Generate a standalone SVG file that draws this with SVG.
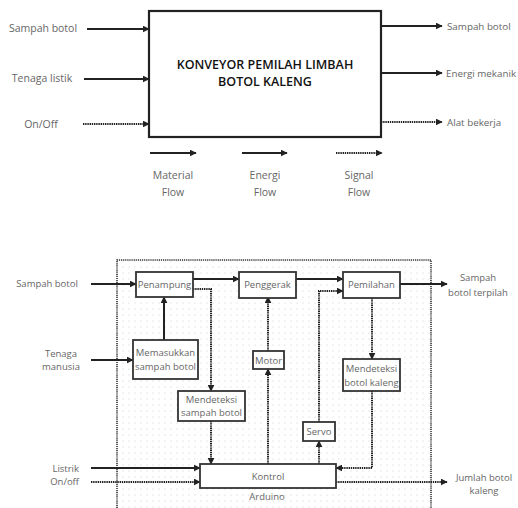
<svg xmlns="http://www.w3.org/2000/svg" width="518" height="508" viewBox="0 0 518 508">
<defs>
<marker id="ah" viewBox="0 0 10 10" refX="9" refY="5" markerWidth="7" markerHeight="7" markerUnits="userSpaceOnUse" orient="auto">
<path d="M0,0 L10,5 L0,10 z" fill="#222"/>
</marker>
<pattern id="dots" width="6" height="6" patternUnits="userSpaceOnUse">
<circle cx="3" cy="3" r="0.6" fill="#c8c8c8"/>
</pattern>
<style>
.lbl{font-family:"Open Sans","Liberation Sans",sans-serif;font-size:10.5px;fill:#666}
.rl{font-family:"Open Sans","Liberation Sans",sans-serif;font-size:9.8px;fill:#666}
.sm{font-family:"Open Sans","Liberation Sans",sans-serif;font-size:9.5px;fill:#666}
.title{font-family:"Open Sans","Liberation Sans",sans-serif;font-size:12.5px;font-weight:600;fill:#111}
.solid{stroke:#222;stroke-width:2;fill:none}
.dot{stroke:#222;stroke-width:2;stroke-dasharray:1.4 0.8;fill:none}
.box{fill:#fff;stroke:#333;stroke-width:1.8}
.bnd{stroke:#333;stroke-width:1.6;stroke-dasharray:1.2 0.9;fill:none}
</style>
</defs>
<rect width="518" height="508" fill="#fff"/>

<!-- Top context diagram -->
<g id="main-box">
<rect x="149" y="11" width="232" height="126" fill="#fff" stroke="#222" stroke-width="2.2"/>
<text class="title" x="265" y="69" text-anchor="middle">KONVEYOR PEMILAH LIMBAH</text>
<text class="title" x="265" y="86" text-anchor="middle">BOTOL KALENG</text>
</g>
<g id="top-labels">
<text class="lbl" x="43" y="32" text-anchor="middle">Sampah botol</text>
<text class="lbl" x="42" y="82" text-anchor="middle">Tenaga listik</text>
<text class="lbl" x="41" y="128" text-anchor="middle">On/Off</text>
<text class="rl" x="447" y="30">Sampah botol</text>
<text class="rl" x="446" y="77">Energi mekanik</text>
<text class="rl" x="447" y="126">Alat bekerja</text>
<text class="lbl" x="173" y="179" text-anchor="middle">Material</text>
<text class="lbl" x="173" y="196" text-anchor="middle">Flow</text>
<text class="lbl" x="265" y="179" text-anchor="middle">Energi</text>
<text class="lbl" x="265" y="196" text-anchor="middle">Flow</text>
<text class="lbl" x="359" y="179" text-anchor="middle">Signal</text>
<text class="lbl" x="359" y="196" text-anchor="middle">Flow</text>
</g>
<g id="top-connectors">
<line class="solid" x1="87" y1="29" x2="149" y2="29" marker-end="url(#ah)"/>
<line class="solid" x1="84" y1="79" x2="149" y2="79" marker-end="url(#ah)"/>
<line class="dot" x1="83" y1="124" x2="149" y2="124" marker-end="url(#ah)"/>
<line class="solid" x1="381" y1="26" x2="442" y2="26" marker-end="url(#ah)"/>
<line class="solid" x1="381" y1="73" x2="442" y2="73" marker-end="url(#ah)"/>
<line class="dot" x1="381" y1="122" x2="442" y2="122" marker-end="url(#ah)"/>
<line class="solid" x1="150" y1="153" x2="196" y2="153" marker-end="url(#ah)"/>
<line class="solid" x1="242" y1="153" x2="287" y2="153" marker-end="url(#ah)"/>
<line class="dot" x1="336" y1="153" x2="382" y2="153" marker-end="url(#ah)"/>
</g>

<!-- Bottom function structure -->
<g id="boundary">
<rect x="117" y="260" width="314" height="250" fill="url(#dots)"/>
<path class="bnd" d="M117,508 L117,260 L431,260 L431,508"/>
</g>

<g id="bottom-labels">
<text class="sm" x="47" y="287" text-anchor="middle">Sampah botol</text>
<text class="sm" x="61" y="357" text-anchor="middle">Tenaga</text>
<text class="sm" x="61" y="370" text-anchor="middle">manusia</text>
<text class="sm" x="79" y="472" text-anchor="end">Listrik</text>
<text class="sm" x="79" y="485" text-anchor="end">On/off</text>
<text class="sm" x="478" y="281" text-anchor="middle">Sampah</text>
<text class="sm" x="478" y="296" text-anchor="middle">botol terpilah</text>
<text class="sm" x="484" y="481" text-anchor="middle">Jumlah botol</text>
<text class="sm" x="484" y="494" text-anchor="middle">kaleng</text>
<text class="sm" x="267" y="500" text-anchor="middle">Arduino</text>
</g>

<g id="connectors">
<line class="solid" x1="91" y1="284" x2="136" y2="284" marker-end="url(#ah)"/>
<line class="solid" x1="91" y1="360" x2="133" y2="360" marker-end="url(#ah)"/>
<line class="solid" x1="164" y1="340" x2="164" y2="297" marker-end="url(#ah)"/>
<line class="solid" x1="193" y1="279" x2="239" y2="279" marker-end="url(#ah)"/>
<line class="solid" x1="296" y1="279" x2="343" y2="279" marker-end="url(#ah)"/>
<line class="solid" x1="400" y1="284" x2="447" y2="284" marker-end="url(#ah)"/>
<polyline class="dot" points="193,289 211,289 211,391" marker-end="url(#ah)"/>
<line class="dot" x1="211" y1="421" x2="211" y2="464" marker-end="url(#ah)"/>
<line class="dot" x1="268" y1="351" x2="268" y2="297" marker-end="url(#ah)"/>
<line class="dot" x1="268" y1="464" x2="268" y2="369" marker-end="url(#ah)"/>
<line class="dot" x1="319" y1="464" x2="319" y2="441" marker-end="url(#ah)"/>
<polyline class="dot" points="319,422 319,291 343,291" marker-end="url(#ah)"/>
<line class="dot" x1="372" y1="298" x2="372" y2="359" marker-end="url(#ah)"/>
<polyline class="dot" points="372,391 372,468 336,468" marker-end="url(#ah)"/>
<line class="solid" x1="91" y1="468" x2="200" y2="468" marker-end="url(#ah)"/>
<line class="dot" x1="91" y1="482" x2="200" y2="482" marker-end="url(#ah)"/>
<line class="dot" x1="336" y1="482" x2="447" y2="482" marker-end="url(#ah)"/>
</g>

<g id="penampung">
<rect class="box" x="136" y="272" width="57" height="25"/>
<text class="sm" x="164.5" y="288" text-anchor="middle">Penampung</text>
</g>
<g id="penggerak">
<rect class="box" x="239" y="272" width="57" height="26"/>
<text class="sm" x="267.5" y="288" text-anchor="middle">Penggerak</text>
</g>
<g id="pemilahan">
<rect class="box" x="343" y="272" width="57" height="26"/>
<text class="sm" x="371.5" y="288" text-anchor="middle">Pemilahan</text>
</g>
<g id="memasukkan">
<rect class="box" x="133" y="340" width="65" height="39"/>
<text class="sm" x="165.5" y="356" text-anchor="middle">Memasukkan</text>
<text class="sm" x="165.5" y="370" text-anchor="middle">sampah botol</text>
</g>
<g id="mendeteksi-sampah">
<rect class="box" x="178" y="391" width="67" height="30"/>
<text class="sm" x="211.5" y="403" text-anchor="middle">Mendeteksi</text>
<text class="sm" x="211.5" y="416" text-anchor="middle">sampah botol</text>
</g>
<g id="motor">
<rect class="box" x="253" y="351" width="31" height="18"/>
<text class="sm" x="268.5" y="363.5" text-anchor="middle">Motor</text>
</g>
<g id="servo">
<rect class="box" x="303" y="422" width="32" height="19"/>
<text class="sm" x="319" y="435" text-anchor="middle">Servo</text>
</g>
<g id="mendeteksi-kaleng">
<rect class="box" x="343" y="359" width="57" height="32"/>
<text class="sm" x="371.5" y="372" text-anchor="middle">Mendeteksi</text>
<text class="sm" x="371.5" y="386" text-anchor="middle">botol kaleng</text>
</g>
<g id="kontrol">
<rect class="box" x="200" y="464" width="136" height="24"/>
<text class="sm" x="268" y="480" text-anchor="middle">Kontrol</text>
</g>
</svg>
